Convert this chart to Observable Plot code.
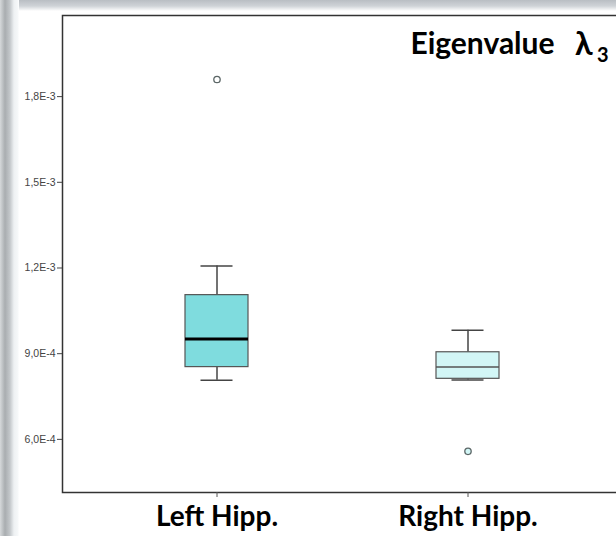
<!DOCTYPE html>
<html><head><meta charset="utf-8">
<script src="https://cdn.jsdelivr.net/npm/d3@7"></script>
<script src="https://cdn.jsdelivr.net/npm/@observablehq/plot@0.6"></script>
<style>
html,body{margin:0;padding:0;width:616px;height:536px;overflow:hidden;}
body{
  background:
    linear-gradient(to bottom, #b9bec3 0px, #cfd3d7 6px, rgba(255,255,255,0) 11px) 19px 0 / 100% 12px no-repeat,
    linear-gradient(to right, #d6d9db 0px, #a9adb0 5px, #c4c8cb 10px, #eef1f3 14px, #f6f8f9 18px, #ffffff 19px) 0 0 / 100% 100% no-repeat;
}
#chart{position:absolute;left:0;top:0;width:616px;height:536px;overflow:hidden;}
#chart svg{display:block;overflow:hidden;}
</style></head><body><div id="chart"></div>
<script>
// ---- data ----
const groups = ["Left Hipp.", "Right Hipp."];
const whiskerLow  = [0.000807, 0.000808];
const q1          = [0.000853, 0.000812];
const median      = [0.000951, 0.000853];
const q3          = [0.001105, 0.000905];
const whiskerHigh = [0.001207, 0.000982];
const outlierGroup = ["Left Hipp.", "Right Hipp."];
const outlierValue = [0.00186, 0.000558];
const yTicks = [0.0006, 0.0009, 0.0012, 0.0015, 0.0018];
const yTickLabels = ["6,0E-4", "9,0E-4", "1,2E-3", "1,5E-3", "1,8E-3"];
const titleWord = "Eigenvalue";
const titleSymbol = "λ";
const titleSub = "3";

// ---- styles ----
const boxColors = {"Left Hipp.": "#7fdcde", "Right Hipp.": "#d2f6f6"};
const dotColors = {"Left Hipp.": "#ffffff", "Right Hipp.": "#d2f6f6"};

const stats = groups.map((g, i) => ({group: g, lo: whiskerLow[i], q1: q1[i], med: median[i], q3: q3[i], hi: whiskerHigh[i]}));
const outliers = outlierGroup.map((g, i) => ({group: g, value: outlierValue[i]}));
const titleFont = "Lato, 'DejaVu Sans', sans-serif";

const chart = Plot.plot({
  width: 616,
  height: 536,
  marginLeft: 62,
  marginRight: -6,
  marginTop: 15,
  marginBottom: 44,
  style: {background: "transparent", overflow: "hidden"},
  x: {type: "band", domain: groups, paddingInner: 0.749, paddingOuter: 0.49, axis: null},
  y: {domain: [0.000414, 0.002084], axis: null},
  marks: [
    Plot.ruleX(stats, {x: "group", y1: "lo", y2: "q1", stroke: "#444", strokeWidth: 1.5}),
    Plot.ruleX(stats, {x: "group", y1: "q3", y2: "hi", stroke: "#444", strokeWidth: 1.5}),
    Plot.tickY(stats, {x: "group", y: "lo", insetLeft: 15.5, insetRight: 15.5, stroke: "#444", strokeWidth: 1.5}),
    Plot.tickY(stats, {x: "group", y: "hi", insetLeft: 15.5, insetRight: 15.5, stroke: "#444", strokeWidth: 1.5}),
    Plot.barY(stats, {x: "group", y1: "q1", y2: "q3", fill: d => boxColors[d.group], stroke: "#555", strokeWidth: 1.2}),
    Plot.tickY(stats.filter(d => d.group === groups[0]), {x: "group", y: "med", stroke: "#000", strokeWidth: 3}),
    Plot.tickY(stats.filter(d => d.group === groups[1]), {x: "group", y: "med", stroke: "#555", strokeWidth: 1.5}),
    Plot.dot(outliers, {x: "group", y: "value", r: 3.2, stroke: "#5b6666", strokeWidth: 1.3, fill: d => dotColors[d.group]}),
    Plot.frame({stroke: "#333", strokeWidth: 1.5}),
    Plot.axisY({ticks: yTicks, tickFormat: d => yTickLabels[yTicks.indexOf(d)], tickSize: 5, tickPadding: 2, fontSize: 10.5, fontFamily: "Liberation Sans, Arial, sans-serif", fill: "#444", stroke: "#444", label: null}),
    Plot.axisX({tickSize: 5, tickPadding: 9, fontSize: 28, fontWeight: "bold", fontFamily: "Lato, sans-serif", fill: "#000", stroke: "#555", label: null}),
    Plot.text([titleWord], {frameAnchor: "top-right", dx: -68, dy: 17, fontSize: 30, fontWeight: "bold", fontFamily: titleFont, fill: "#000", text: d => d}),
    Plot.text([titleSymbol], {frameAnchor: "top-right", dx: -30, dy: 17, fontSize: 32, fontWeight: "bold", fontFamily: titleFont, fill: "#000", text: d => d}),
    Plot.text([titleSub], {frameAnchor: "top-right", dx: -14, dy: 32, fontSize: 20, fontWeight: "bold", fontFamily: titleFont, fill: "#000", text: d => d})
  ]
});
document.getElementById("chart").appendChild(chart);
</script>
</body></html>
